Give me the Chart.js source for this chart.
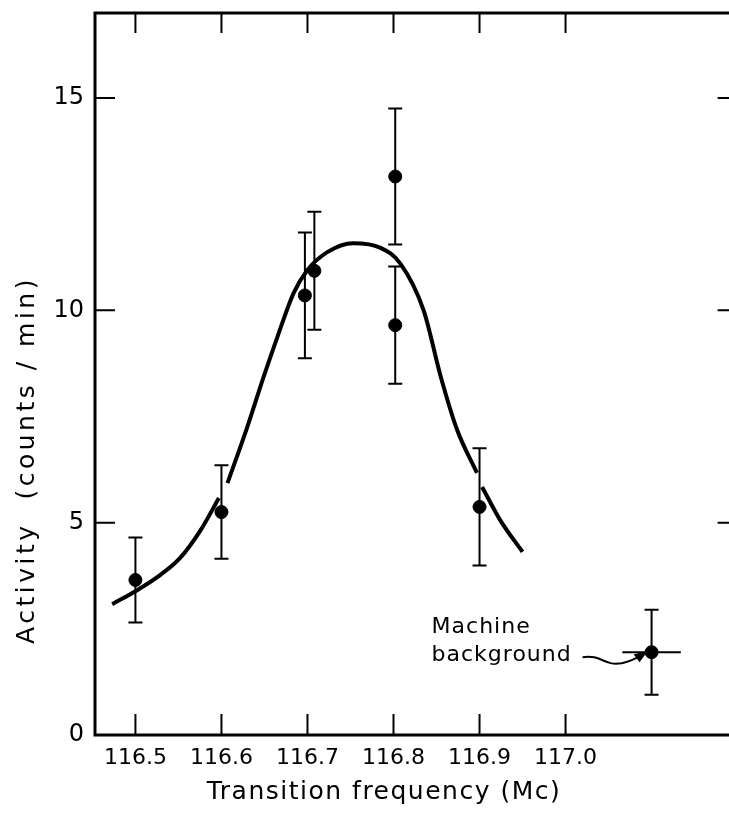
<!DOCTYPE html>
<html>
<head>
<meta charset="utf-8">
<script src="https://cdn.jsdelivr.net/npm/chart.js@4.4.0/dist/chart.umd.min.js"></script>
<style>
  html, body { margin: 0; padding: 0; background: #fff; overflow: hidden; }
  #wrap { width: 729px; height: 813px; }
</style>
</head>
<body>
<div id="wrap"><canvas id="myChart" width="729" height="813"></canvas></div>
<script>
// measured points
const freq = [116.5, 116.6, 116.697, 116.708, 116.802, 116.802, 116.9];
const activity = [3.65, 5.25, 10.35, 10.93, 13.15, 9.65, 5.37];
const activityErr = [1.0, 1.1, 1.48, 1.39, 1.6, 1.38, 1.38];

// machine background point
const bgFreq = [117.1];
const bgActivity = [1.95];
const bgErr = [1.0];
const bgFreqErr = [0.034];

// hand drawn fit curve (null = break in the line)
const curveFreq = [116.473, 116.502, 116.527, 116.552, 116.576, 116.597, 116.602, 116.607, 116.630, 116.649,
  116.665, 116.684, 116.700, 116.723, 116.753, 116.785, 116.808, 116.835, 116.855, 116.874,
  116.897, 116.900, 116.903, 116.924, 116.950];
const curveActivity = [3.08, 3.41, 3.74, 4.17, 4.83, 5.58, null, 5.93, 7.25, 8.43,
  9.37, 10.41, 10.95, 11.37, 11.58, 11.47, 11.10, 10.0, 8.43, 7.18,
  6.17, null, 5.84, 5.06, 4.31];

const xTicks = [116.5, 116.6, 116.7, 116.8, 116.9, 117.0];
const xTickLabels = ["116.5", "116.6", "116.7", "116.8", "116.9", "117.0"];
const yTicks = [0, 5, 10, 15];

const xTitle = "Transition frequency (Mc)";
const yTitle = "Activity  (counts / min)";
const noteLines = ["Machine", "background"];

const FONT = "'DejaVu Sans', sans-serif";

const errorBars = {
  id: "errorBars",
  beforeDatasetsDraw(chart) {
    const ctx = chart.ctx;
    const xs = chart.scales.x, ys = chart.scales.y;
    ctx.save();
    ctx.strokeStyle = "#000";
    ctx.lineWidth = 2;
    const vbar = (fx, v, e) => {
      const px = xs.getPixelForValue(fx);
      const t = ys.getPixelForValue(v + e), b = ys.getPixelForValue(v - e);
      ctx.beginPath();
      ctx.moveTo(px, t); ctx.lineTo(px, b);
      ctx.moveTo(px - 7, t); ctx.lineTo(px + 7, t);
      ctx.moveTo(px - 7, b); ctx.lineTo(px + 7, b);
      ctx.stroke();
    };
    freq.forEach((f, i) => vbar(f, activity[i], activityErr[i]));
    bgFreq.forEach((f, i) => {
      vbar(f, bgActivity[i], bgErr[i]);
      const py = ys.getPixelForValue(bgActivity[i]);
      ctx.beginPath();
      ctx.moveTo(xs.getPixelForValue(f - bgFreqErr[i]), py);
      ctx.lineTo(xs.getPixelForValue(f + bgFreqErr[i]), py);
      ctx.stroke();
    });
    ctx.restore();
  },
  afterDraw(chart) {
    const ctx = chart.ctx;
    const a = chart.chartArea;
    const xs = chart.scales.x, ys = chart.scales.y;
    const rightEdge = xs.getPixelForValue(117.2); // frame continues past the crop
    ctx.save();
    ctx.strokeStyle = "#000";
    ctx.lineWidth = 3;
    ctx.beginPath();
    ctx.moveTo(rightEdge, a.top); ctx.lineTo(a.left, a.top);
    ctx.lineTo(a.left, a.bottom); ctx.lineTo(rightEdge, a.bottom);
    ctx.stroke();

    // inward ticks on all four sides
    ctx.lineWidth = 2;
    ctx.beginPath();
    xTicks.forEach(v => {
      const px = xs.getPixelForValue(v);
      ctx.moveTo(px, a.bottom); ctx.lineTo(px, a.bottom - 21);
      ctx.moveTo(px, a.top); ctx.lineTo(px, a.top + 20);
    });
    yTicks.slice(1).forEach(v => {
      const py = ys.getPixelForValue(v);
      ctx.moveTo(a.left, py); ctx.lineTo(a.left + 20, py);
      ctx.moveTo(rightEdge, py); ctx.lineTo(rightEdge - 20, py);
    });
    ctx.stroke();

    // axis titles
    ctx.fillStyle = "#000";
    ctx.textAlign = "center";
    ctx.textBaseline = "middle";
    ctx.font = "25px " + FONT;
    ctx.letterSpacing = "1.5px";
    ctx.fillText(xTitle, 384, 792);
    ctx.save();
    ctx.translate(27, 460);
    ctx.rotate(-Math.PI / 2);
    ctx.letterSpacing = "3.5px";
    ctx.fillText(yTitle, 0, 0);
    ctx.restore();

    // note for machine background
    const bx = xs.getPixelForValue(bgFreq[0]), by = ys.getPixelForValue(bgActivity[0]);
    ctx.letterSpacing = "1px";
    ctx.font = "22px " + FONT;
    ctx.textAlign = "left";
    ctx.textBaseline = "alphabetic";
    ctx.fillText(noteLines[0], bx - 220, by - 19);
    ctx.fillText(noteLines[1], bx - 220, by + 9);
    ctx.lineWidth = 2;
    ctx.beginPath();
    ctx.moveTo(bx - 69, by + 5);
    ctx.bezierCurveTo(bx - 50, by + 2, bx - 48, by + 14, bx - 30, by + 11);
    ctx.quadraticCurveTo(bx - 20, by + 9, bx - 12, by + 4);
    ctx.stroke();
    ctx.beginPath();
    ctx.moveTo(bx - 4, by - 1);
    ctx.lineTo(bx - 18, by + 2);
    ctx.lineTo(bx - 12, by + 10);
    ctx.closePath();
    ctx.fill();
    ctx.restore();
  }
};

const ctx = document.getElementById("myChart").getContext("2d");
const myChart = new Chart(ctx, {
  type: "scatter",
  data: {
    datasets: [
      {
        label: "fit",
        data: curveFreq.map((f, i) => ({ x: f, y: curveActivity[i] })),
        showLine: true,
        spanGaps: false,
        borderColor: "#000",
        borderWidth: 4,
        pointRadius: 0,
        cubicInterpolationMode: "monotone",
        fill: false,
      },
      {
        label: "data",
        data: freq.map((f, i) => ({ x: f, y: activity[i] })),
        backgroundColor: "#000",
        borderColor: "#000",
        pointRadius: 6.5,
        pointHoverRadius: 6.5,
      },
      {
        label: "background",
        data: bgFreq.map((f, i) => ({ x: f, y: bgActivity[i] })),
        backgroundColor: "#000",
        borderColor: "#000",
        pointRadius: 6.5,
        pointHoverRadius: 6.5,
      },
    ],
  },
  options: {
    responsive: false,
    animation: false,
    devicePixelRatio: 1,
    layout: { autoPadding: false, padding: { top: 13, right: 0, left: 0, bottom: 0 } },
    plugins: { legend: { display: false }, tooltip: { enabled: false } },
    scales: {
      x: {
        type: "linear",
        min: 116.453,
        max: 117.19,
        grid: { display: false, drawTicks: false },
        border: { display: false },
        afterBuildTicks: (scale) => { scale.ticks = xTicks.map(v => ({ value: v })); },
        afterFit: (scale) => { scale.height = 78; scale.paddingLeft = 0; scale.paddingRight = 0; },
        ticks: {
          color: "#000",
          padding: 10,
          font: { size: 22, family: FONT },
          maxRotation: 0,
          callback: (v) => xTickLabels[xTicks.indexOf(v)],
        },
      },
      y: {
        min: 0,
        max: 17,
        grid: { display: false, drawTicks: false },
        border: { display: false },
        afterBuildTicks: (scale) => { scale.ticks = yTicks.map(v => ({ value: v })); },
        afterFit: (scale) => { scale.width = 95; scale.paddingTop = 0; scale.paddingBottom = 0; },
        ticks: {
          color: "#000",
          padding: 11,
          font: { size: 24, family: FONT },
        },
      },
    },
  },
  plugins: [errorBars],
});
</script>
</body>
</html>
